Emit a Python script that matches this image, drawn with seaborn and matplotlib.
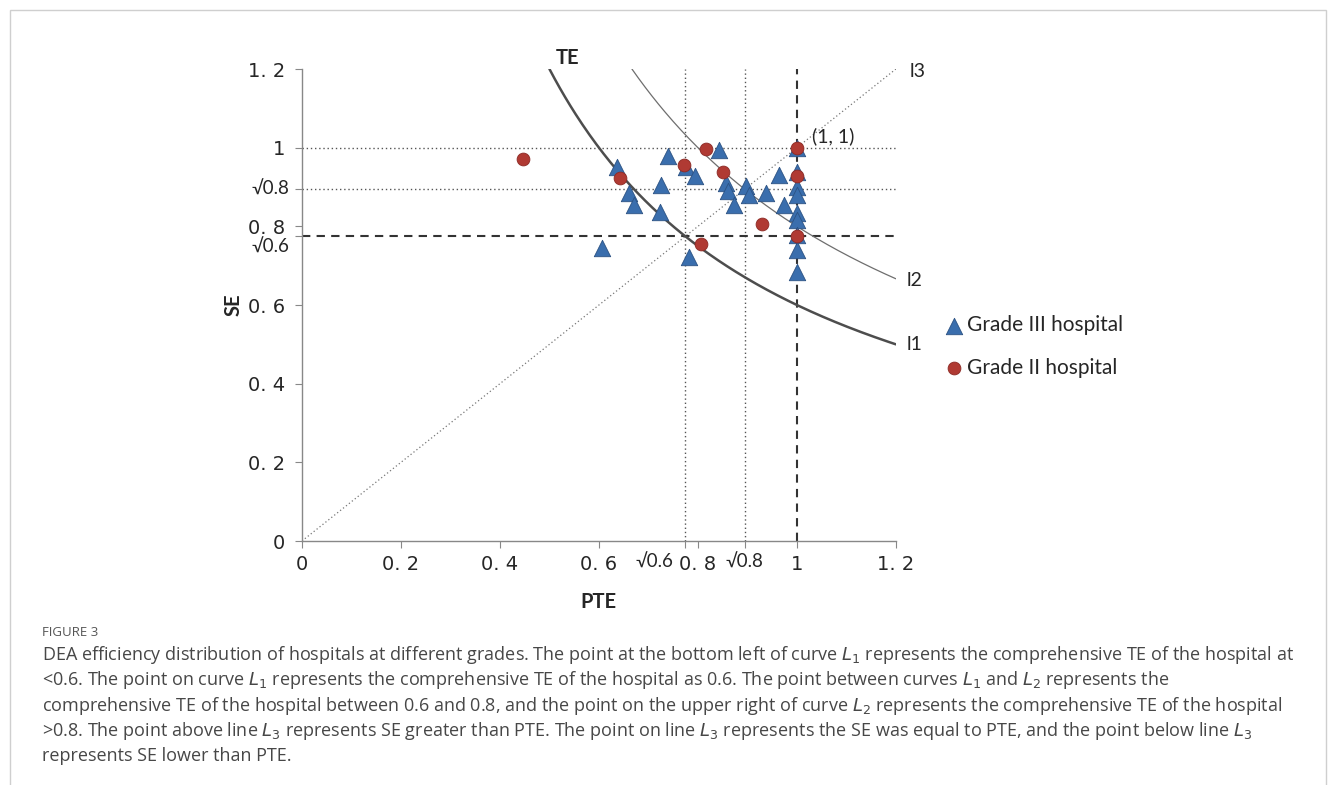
import numpy as np
import pandas as pd
import matplotlib
matplotlib.use('Agg')
import matplotlib.pyplot as plt
import seaborn as sns
from matplotlib.patches import Rectangle

# data (PTE, SE)
grade3_pte = [0.739, 0.843, 0.636, 0.776, 0.794, 0.725, 0.661, 0.671, 0.723, 0.607,
              0.782, 0.857, 0.860, 0.873, 0.897, 0.904, 0.937, 0.964, 0.974,
              1.0, 1.0, 1.0, 1.0, 1.0, 1.0, 1.0, 1.0, 1.0]
grade3_se = [0.978, 0.995, 0.952, 0.950, 0.927, 0.906, 0.885, 0.855, 0.836, 0.745,
             0.723, 0.910, 0.891, 0.855, 0.902, 0.880, 0.885, 0.931, 0.855,
             0.999, 0.938, 0.901, 0.880, 0.834, 0.817, 0.778, 0.740, 0.683]
grade2_pte = [0.446, 0.642, 0.816, 0.772, 0.851, 1.0, 1.0, 0.929, 1.0, 0.807]
grade2_se = [0.972, 0.923, 0.997, 0.957, 0.937, 1.0, 0.929, 0.805, 0.775, 0.755]

group_names = ['Grade III hospital', 'Grade II hospital']
te_levels = [0.6, 0.8]  # iso-TE curves l1, l2 (TE = PTE * SE)
x_ticks = [0, 0.2, 0.4, 0.6, np.sqrt(0.6), 0.8, np.sqrt(0.8), 1, 1.2]
x_ticklabels = ['0', '0. 2', '0. 4', '0. 6', '', '0. 8', '', '1', '1. 2']
y_ticks = [0, 0.2, 0.4, 0.6, np.sqrt(0.6), 0.8, np.sqrt(0.8), 1, 1.2]
y_ticklabels = ['0', '0. 2', '0. 4', '0. 6', '', '0. 8', '', '1', '1. 2']

df3 = pd.DataFrame({'PTE': grade3_pte, 'SE': grade3_se, 'grade': group_names[0]})
df2 = pd.DataFrame({'PTE': grade2_pte, 'SE': grade2_se, 'grade': group_names[1]})

sns.set_style('ticks')
plt.rcParams['font.family'] = ['DejaVu Sans']

fig = plt.figure(figsize=(13.36, 7.85), dpi=100)
ax = fig.add_axes([0.226, 0.3108, 0.4446, 0.6013])

# reference lines
grey = '#555555'
ax.plot([0, 1.2], [0, 1.2], ls=(0, (1, 2)), color='#777777', lw=0.9, zorder=1)
for v in [1.0, np.sqrt(0.8)]:
    ax.axhline(v, ls=(0, (1, 2)), color=grey, lw=1.0, zorder=1)
for v in [np.sqrt(0.6), np.sqrt(0.8)]:
    ax.axvline(v, ls=(0, (1, 2)), color=grey, lw=1.0, zorder=1)
ax.axvline(1.0, ls=(0, (4, 3)), color='#333333', lw=1.5, zorder=1)
ax.axhline(np.sqrt(0.6), ls=(0, (4, 3)), color='#333333', lw=1.5, zorder=1)

# iso-TE curves
xs = np.linspace(te_levels[0] / 1.2, 1.2, 200)
ax.plot(xs, te_levels[0] / xs, color='#4d4d4d', lw=1.8, zorder=2)
xs = np.linspace(te_levels[1] / 1.2, 1.2, 200)
ax.plot(xs, te_levels[1] / xs, color='#6e6e6e', lw=0.9, zorder=2)

# hospitals
sns.scatterplot(data=df3, x='PTE', y='SE', marker='^', s=140, color='#3a6ead',
                edgecolor='#2c5283', linewidth=0.6, label=group_names[0], ax=ax, zorder=3)
sns.scatterplot(data=df2, x='PTE', y='SE', marker='o', s=85, color='#b03a33',
                edgecolor='#8c2a25', linewidth=0.6, label=group_names[1], ax=ax, zorder=4)

ax.set_xlim(0, 1.2)
ax.set_ylim(0, 1.2)
ax.set_xticks(x_ticks)
ax.set_xticklabels(x_ticklabels, fontsize=14)
ax.set_yticks(y_ticks)
ax.set_yticklabels(y_ticklabels, fontsize=14)
ax.tick_params(axis='x', length=5, width=0.8, color='#888888', pad=5)
ax.tick_params(axis='y', length=5, width=0.8, color='#888888', pad=7)
for s in ['top', 'right']:
    ax.spines[s].set_visible(False)
for s in ['left', 'bottom']:
    ax.spines[s].set_color('#888888')
    ax.spines[s].set_linewidth(1.0)

lab_font = ['Lato', 'DejaVu Sans']
# square-root tick labels
ax.annotate('√0.6', xy=(np.sqrt(0.6), 0), xycoords=('data', 'axes fraction'),
            xytext=(-22, -9), textcoords='offset points', ha='center', va='top',
            fontsize=13.5, family=lab_font)
ax.annotate('√0.8', xy=(np.sqrt(0.8), 0), xycoords=('data', 'axes fraction'),
            xytext=(0, -9), textcoords='offset points', ha='center', va='top',
            fontsize=13.5, family=lab_font)
ax.annotate('√0.8', xy=(0, np.sqrt(0.8)), xycoords=('axes fraction', 'data'),
            xytext=(-9, 0), textcoords='offset points', ha='right', va='center',
            fontsize=13.5, family=lab_font)
ax.annotate('√0.6', xy=(0, np.sqrt(0.6)), xycoords=('axes fraction', 'data'),
            xytext=(-9, -8), textcoords='offset points', ha='right', va='center',
            fontsize=13.5, family=lab_font)

ax.set_xlabel('PTE', fontsize=14.5, fontweight='bold', family=lab_font, labelpad=13)
ax.set_ylabel('SE', fontsize=14.5, fontweight='bold', family=lab_font, labelpad=3)

# curve / line labels
ax.text(0.537, 1.229, 'TE', fontsize=14.5, fontweight='bold', family=lab_font,
        ha='center', va='center')
ax.text(1.228, 1.193, 'l3', fontsize=14, family=lab_font, va='center')
ax.text(1.222, 0.662, 'l2', fontsize=14, family=lab_font, va='center')
ax.text(1.222, 0.499, 'l1', fontsize=14, family=lab_font, va='center')
ax.text(1.03, 1.03, '(1, 1)', fontsize=14, family=lab_font, va='center')

ax.legend(loc='center left', bbox_to_anchor=(0.700, 0.5586), bbox_transform=fig.transFigure,
          frameon=False, prop={'family': lab_font, 'size': 15}, handlelength=0.8,
          handletextpad=0.25, labelspacing=1.1, borderpad=0)

# caption
fig.text(0.0314, 1 - 633 / 785, 'FIGURE 3', fontsize=9.5, color='#555555', family='Open Sans',
         va='center')
caption_lines = [
    'DEA efficiency distribution of hospitals at different grades. The point at the bottom left of curve $L_1$ represents the comprehensive TE of the hospital at',
    '<0.6. The point on curve $L_1$ represents the comprehensive TE of the hospital as 0.6. The point between curves $L_1$ and $L_2$ represents the',
    'comprehensive TE of the hospital between 0.6 and 0.8, and the point on the upper right of curve $L_2$ represents the comprehensive TE of the hospital',
    '>0.8. The point above line $L_3$ represents SE greater than PTE. The point on line $L_3$ represents the SE was equal to PTE, and the point below line $L_3$',
    'represents SE lower than PTE.',
]
for i, line in enumerate(caption_lines):
    fig.text(0.0314, 1 - (655 + 25.3 * i) / 785, line, fontsize=13, color='#474747',
             family='Open Sans', va='center')

fig.patches.append(Rectangle((0.0075, -0.02), 0.985, 1.007, transform=fig.transFigure,
                             fill=False, edgecolor='#cfcfcf', lw=1.0))

fig.savefig('out.png', dpi=100)
